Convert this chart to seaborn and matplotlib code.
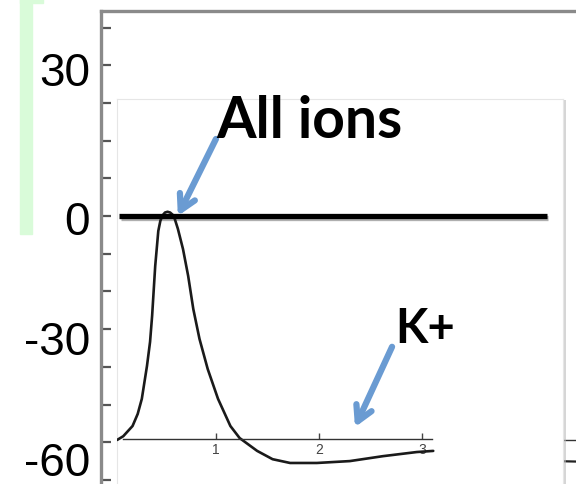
import matplotlib
matplotlib.use("Agg")
import matplotlib.pyplot as plt
import matplotlib.patheffects as pe
from matplotlib.patches import Rectangle
import numpy as np
import pandas as pd
import seaborn as sns

# action potential trace (time in ms, membrane potential in mV)
time_ms = [0.04, 0.10, 0.19, 0.24, 0.28, 0.33, 0.36, 0.38, 0.41, 0.44, 0.46, 0.48, 0.505,
           0.53, 0.555, 0.58, 0.60, 0.63, 0.68, 0.73, 0.78, 0.84, 0.92, 1.02, 1.14,
           1.23, 1.40, 1.55, 1.72, 1.98, 2.30, 2.62, 2.95, 3.11]
voltage_mv = [-59.4, -58.4, -55.7, -52.5, -48.5, -39.8, -33.4, -26.5, -13.3, -4.0, -1.3, 0.1, 0.9,
              1.1, 0.9, 0.3, -0.8, -3.4, -8.8, -15.9, -24.7, -32.6, -40.6, -48.5, -55.7,
              -58.9, -62.3, -64.5, -65.5, -65.5, -65.0, -63.7, -62.6, -62.3]
inset_ticks = [1, 2, 3]
inset_axis_mv = -59.2
inset_axis_span = (0.10, 3.10)

# "All ions" equilibrium line at 0 mV
all_ions_mv = 0
all_ions_span = (0.06, 4.21)

# outer scale: visible tick marks every 10 mV, labels where they sit in the picture
minor_ticks = [-70, -60, -50, -40, -30, -20, -10, 0, 10, 20, 30, 40, 50]
label_pos = [39.3, -0.3, -32.1, -64.3]
label_text = ["30", "0", "-30", "-60"]

# bits of the background plot peeking out on the right
outer_t = [4.30, 4.80]
outer_axis_mv = [-59.5, -59.5]
outer_trace_mv = [-65.0, -65.3]

annotations = [
    ("All ions", (0.63, 0.0), (1.0, 20.4), (1.00, 21.0), 41),
    ("K+", (2.35, -56.0), (2.71, -34.7), (2.74, -33.4), 34),
]

sns.set_theme(style="white")
plt.rcParams["font.family"] = ["Liberation Sans", "DejaVu Sans"]

W, H = 576, 485
fig = plt.figure(figsize=(W / 100, H / 100), dpi=100)


def px_box(x0, y0, x1, y1):
    return [x0 / W, 1 - y1 / H, (x1 - x0) / W, (y1 - y0) / H]


# light green bracket on the left
green = "#d9fbd9"
fig.patches.append(Rectangle((20 / W, 1 - 235 / H), 12 / W, 235 / H,
                             transform=fig.transFigure, color=green, zorder=0))
fig.patches.append(Rectangle((20 / W, 1 - 4 / H), 23 / W, 4 / H,
                             transform=fig.transFigure, color=green, zorder=0))

# outer axes
ax = fig.add_axes(px_box(101, 12, 600, 490))
ax.set_facecolor("white")
ax.set_xlim(-0.117, 4.73)
ax.set_ylim(-72.4, 54.4)
for s in ["right", "bottom"]:
    ax.spines[s].set_visible(False)
for s in ["left", "top"]:
    ax.spines[s].set_color("#8a8a8a")
    ax.spines[s].set_linewidth(2.4)
ax.set_xticks([])
ax.set_yticks(label_pos)
ax.set_yticklabels(label_text, fontsize=33, color="black")
ax.set_yticks(minor_ticks, minor=True)
ax.tick_params(axis="y", which="major", length=0, pad=8, left=True)
ax.tick_params(axis="y", which="minor", direction="in", length=7, width=1.6,
               color="#555555", left=True)
ax.plot(outer_t, outer_axis_mv, color="#333333", lw=1.0)
ax.plot(outer_t, outer_trace_mv, color="#222222", lw=1.6)

# white inset card with soft shadow
ax_in = fig.add_axes(px_box(117, 100, 563, 490))
ax_in.set_xticks([])
ax_in.set_yticks([])
for s in ax_in.spines.values():
    s.set_color("#e6e6e6")
    s.set_linewidth(0.8)
ax_in.patch.set_facecolor("white")
ax_in.patch.set_path_effects([pe.SimplePatchShadow(offset=(2, -1), shadow_rgbFace="#bbbbbb", alpha=0.6),
                              pe.Normal()])

# inset trace
ax_c = fig.add_axes(px_box(117, 100, 563, 490))
ax_c.patch.set_alpha(0)
ax_c.set_xlim(0.039, 4.37)
ax_c.set_ylim(-72.4, 31.0)

df = pd.DataFrame({"t": time_ms, "v": voltage_mv})
sns.lineplot(data=df, x="t", y="v", ax=ax_c, color="#1a1a1a", lw=1.9, sort=False,
             solid_joinstyle="round", solid_capstyle="round")
ax_c.set_xlabel("")
ax_c.set_ylabel("")

for s in ["left", "right", "top"]:
    ax_c.spines[s].set_visible(False)
ax_c.spines["bottom"].set_position(("data", inset_axis_mv))
ax_c.spines["bottom"].set_bounds(*inset_axis_span)
ax_c.spines["bottom"].set_color("#333333")
ax_c.spines["bottom"].set_linewidth(1.0)
ax_c.set_yticks([])
ax_c.set_xticks(inset_ticks)
ax_c.set_xticklabels([str(t) for t in inset_ticks], fontsize=10, color="#444444")
ax_c.tick_params(axis="x", direction="in", length=4, width=1, color="#444444",
                 pad=2, bottom=True)

ax_c.hlines(all_ions_mv, *all_ions_span, color="black", lw=3.8,
            path_effects=[pe.SimpleLineShadow(offset=(1, -1.5), alpha=0.35), pe.Normal()])

arrow_col = "#6a9bd2"
for text, head, tail, txt_xy, size in annotations:
    ax_c.annotate("", xy=head, xytext=tail,
                  arrowprops=dict(arrowstyle="->,head_length=0.9,head_width=0.5",
                                  color=arrow_col, lw=4.5, shrinkA=0, shrinkB=0))
    ax_c.text(txt_xy[0], txt_xy[1], text, fontsize=size, fontweight="bold",
              family=["Lato", "DejaVu Sans"], ha="left", va="baseline", color="black")

fig.savefig("out.png", dpi=100)
